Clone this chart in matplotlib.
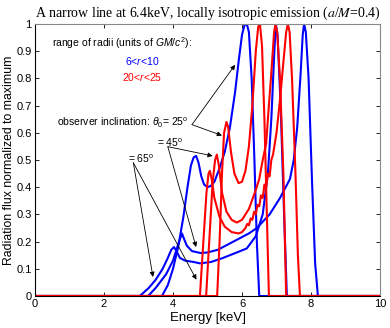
import matplotlib
matplotlib.use("Agg")
import matplotlib.pyplot as plt

# blue: 6<r<10, red: 20<r<25 ; energies in keV, flux normalized to max
blue25_e = [0, 3.68, 3.85, 4.0, 4.15, 4.3, 4.42, 4.52, 4.6, 4.67, 4.74, 4.82, 4.9, 5.0, 5.1, 5.2,
            5.35, 5.5, 5.65, 5.8, 5.9, 6.0, 6.07, 6.14, 6.2, 6.28, 6.36, 6.43, 6.5, 10]
blue25_f = [0, 0, 0.04, 0.1, 0.18, 0.29, 0.4, 0.48, 0.51, 0.515, 0.49, 0.44, 0.41, 0.40, 0.405, 0.42,
            0.47, 0.53, 0.62, 0.75, 0.86, 0.96, 0.995, 1.0, 0.97, 0.8, 0.5, 0.2, 0, 0]

blue45_e = [0, 3.28, 3.5, 3.8, 4.0, 4.15, 4.26, 4.32, 4.4, 4.55, 4.8, 5.0, 5.3, 5.6, 5.9, 6.2, 6.43,
            6.8, 7.1, 7.39, 7.5, 7.6, 7.7, 7.76, 7.8, 7.85, 7.93, 8.03, 8.12, 8.2, 10]
blue45_f = [0, 0, 0.03, 0.08, 0.13, 0.19, 0.23, 0.21, 0.185, 0.165, 0.158, 0.16, 0.17, 0.19, 0.21, 0.23, 0.25,
            0.3, 0.36, 0.43, 0.5, 0.62, 0.82, 0.96, 1.0, 0.97, 0.8, 0.42, 0.12, 0, 0]

blue65_e = [0, 3.04, 3.3, 3.5, 3.7, 3.85, 3.95, 4.03, 4.1, 4.2, 4.35, 4.6, 4.78, 5.1, 5.45, 5.85, 6.14,
            6.4, 6.6, 6.75, 6.85, 6.93, 6.98, 7.03, 7.12, 7.22, 7.3, 10]
blue65_f = [0, 0, 0.03, 0.06, 0.1, 0.14, 0.17, 0.18, 0.165, 0.14, 0.13, 0.125, 0.12, 0.125, 0.14, 0.16, 0.175,
            0.22, 0.3, 0.45, 0.65, 0.88, 1.0, 0.96, 0.7, 0.3, 0, 0]

red25_e = [0, 5.28, 5.35, 5.42, 5.48, 5.55, 5.6, 5.68, 5.78, 5.9, 6.0, 6.1, 6.2, 6.3, 6.4, 6.47,
           6.52, 6.58, 6.65, 6.72, 6.78, 10]
red25_f = [0, 0, 0.2, 0.45, 0.6, 0.64, 0.62, 0.53, 0.45, 0.415, 0.42, 0.46, 0.55, 0.7, 0.9, 0.99,
           1.0, 0.92, 0.65, 0.3, 0, 0]

red45_e = [0, 4.96, 5.05, 5.15, 5.22, 5.27, 5.33, 5.42, 5.55, 5.7, 5.85, 6.0, 6.2, 6.4, 6.5, 6.6,
           6.7, 6.75, 6.85, 6.93, 6.97, 7.02, 7.1, 7.2, 7.28, 10]
red45_f = [0, 0, 0.2, 0.42, 0.5, 0.52, 0.48, 0.38, 0.31, 0.28, 0.27, 0.28, 0.32, 0.39, 0.43, 0.5,
           0.56, 0.65, 0.82, 0.97, 1.0, 0.97, 0.8, 0.45, 0, 0]

red65_e = [0, 4.78, 4.88, 4.97, 5.03, 5.07, 5.12, 5.2, 5.35, 5.5, 5.7, 5.9, 6.0, 6.1, 6.15, 6.2,
           6.25, 6.3, 6.35, 6.4, 6.45, 6.5, 6.55, 6.6, 6.65, 6.7, 6.75, 6.8, 6.85, 6.9, 7.0, 7.1,
           7.2, 7.28, 7.33, 7.38, 7.45, 7.55, 7.62, 7.68, 10]
red65_f = [0, 0, 0.2, 0.38, 0.45, 0.46, 0.43, 0.36, 0.29, 0.255, 0.235, 0.23, 0.235, 0.25, 0.265, 0.26,
           0.285, 0.28, 0.31, 0.3, 0.335, 0.33, 0.37, 0.36, 0.41, 0.4, 0.45, 0.44, 0.5, 0.52, 0.6, 0.72,
           0.86, 0.97, 1.0, 0.97, 0.8, 0.45, 0.15, 0, 0]

xticks = [0, 2, 4, 6, 8, 10]
yticks = [0, 0.1, 0.2, 0.3, 0.4, 0.5, 0.6, 0.7, 0.8, 0.9, 1]
ytick_labels = ["0", "0.1", "0.2", "0.3", "0.4", "0.5", "0.6", "0.7", "0.8", "0.9", "1"]

plt.rcParams["font.family"] = ["Liberation Sans", "DejaVu Sans"]
plt.rcParams["mathtext.fontset"] = "custom"
plt.rcParams["mathtext.it"] = "Liberation Sans:italic"
plt.rcParams["mathtext.rm"] = "Liberation Sans"

fig = plt.figure(figsize=(3.9, 3.28), dpi=100)
ax = fig.add_axes([35 / 390, 32 / 328, 345 / 390, 272 / 328])

lw = 1.5
for e, f in [(blue25_e, blue25_f), (blue45_e, blue45_f), (blue65_e, blue65_f)]:
    ax.plot(e, f, color="#0000ff", lw=lw)
for e, f in [(red25_e, red25_f), (red45_e, red45_f), (red65_e, red65_f)]:
    ax.plot(e, f, color="#ff0000", lw=lw)

ax.set_xlim(0, 10)
ax.set_ylim(0, 1)
ax.set_xticks(xticks)
ax.set_yticks(yticks)
ax.set_yticklabels(ytick_labels)
ax.tick_params(direction="in", top=True, right=True, length=3, labelsize=8, width=0.6, pad=2.5)
for s in ["top", "right"]:
    ax.spines[s].set_color("#888888")
for s in ax.spines.values():
    s.set_linewidth(0.8)

ax.set_xlabel("Energy [keV]", fontsize=9.5, labelpad=2)
ax.set_ylabel("Radiation flux normalized to maximum", fontsize=8.8, labelpad=1)
ax.set_title("A narrow line at 6.4keV, locally isotropic emission ($a$/$M$=0.4)",
             fontsize=10, family="Liberation Serif", math_fontfamily="stix", pad=5)

ax.text(0.5, 0.93, "range of radii (units of $GM/c^2$):", fontsize=7.5, va="center")
ax.text(3.1, 0.865, "6<$r$<10", color="#0000ff", fontsize=7.5, ha="center", va="center")
ax.text(3.1, 0.805, "20<$r$<25", color="#ff0000", fontsize=7.5, ha="center", va="center")
ax.text(0.65, 0.635, r"observer inclination: $\theta_0$= 25$^{\rm o}$", fontsize=7.5, va="center")
ax.text(3.53, 0.563, r"= 45$^{\rm o}$", fontsize=7.5, va="center")
ax.text(2.7, 0.506, r"= 65$^{\rm o}$", fontsize=7.5, va="center")

arr = dict(arrowstyle="-|>", color="black", lw=0.6, mutation_scale=7, shrinkA=0, shrinkB=0)
# 25 deg
ax.annotate("", xy=(5.8, 0.85), xytext=(4.55, 0.63), arrowprops=arr)
ax.annotate("", xy=(5.42, 0.59), xytext=(4.55, 0.63), arrowprops=arr)
# 45 deg
ax.annotate("", xy=(5.15, 0.515), xytext=(3.85, 0.549), arrowprops=arr)
ax.annotate("", xy=(4.67, 0.18), xytext=(3.85, 0.549), arrowprops=arr)
# 65 deg
ax.annotate("", xy=(3.42, 0.07), xytext=(2.85, 0.49), arrowprops=arr)
ax.annotate("", xy=(4.68, 0.06), xytext=(2.85, 0.49), arrowprops=arr)

fig.savefig("out.png", dpi=100)
